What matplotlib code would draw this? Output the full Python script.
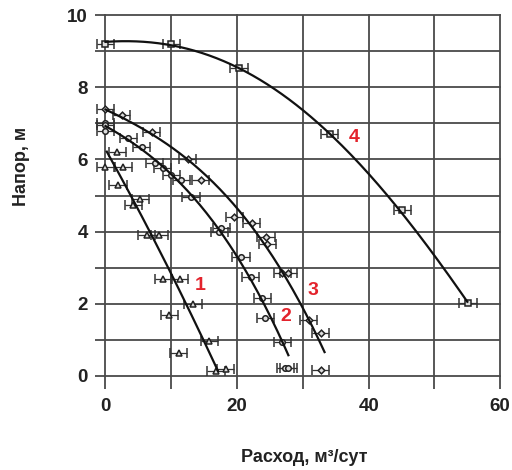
import numpy as np
import matplotlib
matplotlib.use("Agg")
import matplotlib.pyplot as plt
from matplotlib.ticker import MultipleLocator

FONT = ['Liberation Sans', 'DejaVu Sans']
plt.rcParams['font.family'] = FONT

# measured points (triangles, circles, diamonds, squares)
s1_x = [0.0, 1.8, 2.7, 1.9, 4.2, 5.3, 6.3, 8.2, 8.8, 11.3, 13.3, 9.7, 11.1, 15.8, 16.8, 18.3]
s1_y = [5.8, 6.2, 5.8, 5.3, 4.75, 4.9, 3.9, 3.9, 2.7, 2.7, 2.0, 1.7, 0.65, 0.97, 0.15, 0.2]

s2_x = [0.0, 0.0, 0.0, 3.5, 5.5, 7.5, 8.7, 10.0, 11.5, 13.0, 17.6, 17.3, 20.6, 22.1, 23.8, 24.3, 26.9, 27.3, 27.8]
s2_y = [7.02, 6.95, 6.8, 6.58, 6.35, 5.9, 5.76, 5.57, 5.43, 4.95, 4.09, 4.0, 3.3, 2.75, 2.15, 1.6, 0.95, 0.22, 0.22]

s3_x = [0.0, 2.5, 7.0, 12.5, 14.5, 19.6, 22.2, 24.4, 24.6, 26.9, 27.8, 30.9, 32.7, 32.7]
s3_y = [7.41, 7.23, 6.75, 6.0, 5.43, 4.4, 4.25, 3.85, 3.65, 2.84, 2.84, 1.55, 1.18, 0.17]

s4_x = [0.0, 10.0, 20.3, 34.1, 45.1, 55.1]
s4_y = [9.2, 9.2, 8.53, 6.7, 4.6, 2.02]

# trend curves
c1_x = [0.2, 4.0, 10.0, 13.1, 17.1]
c1_y = [6.26, 4.88, 2.75, 1.85, 0.07]
c2_x = [0.0, 5.5, 10.0, 13.1, 17.3, 22.3, 25.9, 27.8]
c2_y = [6.9, 6.35, 5.57, 4.97, 4.0, 2.66, 1.37, 0.53]
c3_x = [0.0, 2.5, 7.7, 12.8, 19.6, 24.6, 27.4, 30.9, 33.3]
c3_y = [7.32, 7.2, 6.72, 5.98, 4.41, 3.72, 2.84, 1.55, 0.6]
c4_x = [0.0, 5.0, 10.0, 20.0, 30.4, 40.0, 50.0, 55.0]
c4_y = [9.26, 9.26, 9.17, 8.53, 7.37, 5.52, 3.4, 2.03]

labels = ['1', '2', '3', '4']
label_x = [14.4, 27.4, 31.5, 37.8]
label_y = [2.5, 1.66, 2.38, 6.62]

x_err = 1.3

fig = plt.figure(figsize=(5.12, 4.70), dpi=100)
ax = fig.add_axes([0.206, 0.2, 0.771, 0.768])

gc = '#4a4a4a'
ax.set_xlim(0, 60)
ax.set_ylim(0, 10)
for sp in ax.spines.values():
    sp.set_visible(False)
ax.xaxis.set_major_locator(MultipleLocator(20))
ax.xaxis.set_minor_locator(MultipleLocator(10))
ax.yaxis.set_major_locator(MultipleLocator(2))
ax.yaxis.set_minor_locator(MultipleLocator(1))
ax.grid(True, which='both', color=gc, linewidth=1.3, zorder=0)
for gl in ax.get_xgridlines() + ax.get_ygridlines():
    gl.set_clip_on(False)
ax.tick_params(axis='x', which='both', direction='out', length=9, width=1.3, color=gc, pad=7)
ax.tick_params(axis='y', which='both', direction='out', length=7.5, width=1.3, color=gc, pad=5)
for t in ax.get_xticklabels() + ax.get_yticklabels():
    t.set_fontsize(13.5)
    t.set_fontweight('bold')
    t.set_color('#222222')
ax.set_axisbelow(True)

markers = ['^', 'o', 'D', 's']
series = [(s1_x, s1_y), (s2_x, s2_y), (s3_x, s3_y), (s4_x, s4_y)]
for (sx, sy), m in zip(series, markers):
    ax.errorbar(sx, sy, xerr=x_err, fmt=m, ms=4.0 if m != 'D' else 3.4,
                mfc='#dddddd', mec='#222222', mew=1.1, ecolor='#333333',
                elinewidth=0.9, capsize=3.5, capthick=0.9, zorder=3, clip_on=False)

curves = [(c1_x, c1_y, 2), (c2_x, c2_y, 3), (c3_x, c3_y, 3), (c4_x, c4_y, 4)]
for cx, cy, deg in curves:
    coef = np.polyfit(cx, cy, deg)
    xx = np.linspace(min(cx), max(cx), 200)
    ax.plot(xx, np.polyval(coef, xx), color='#111111', lw=1.6, zorder=4, clip_on=False)

for t, lx, ly in zip(labels, label_x, label_y):
    ax.text(lx, ly, t, color='#e3232c', fontsize=14, fontweight='bold',
            ha='center', va='center', zorder=5,
            bbox=dict(facecolor='white', edgecolor='none', pad=1.5))

fig.text(304 / 512, 1 - 458 / 470, 'Расход, м³/сут', ha='center', va='center',
         fontsize=13, fontweight='bold', color='#222222')
fig.text(22 / 512, 1 - 166 / 470, 'Напор, м', ha='center', va='center',
         rotation=90, fontsize=13, fontweight='bold', color='#222222')

fig.savefig('out.png', dpi=100)
